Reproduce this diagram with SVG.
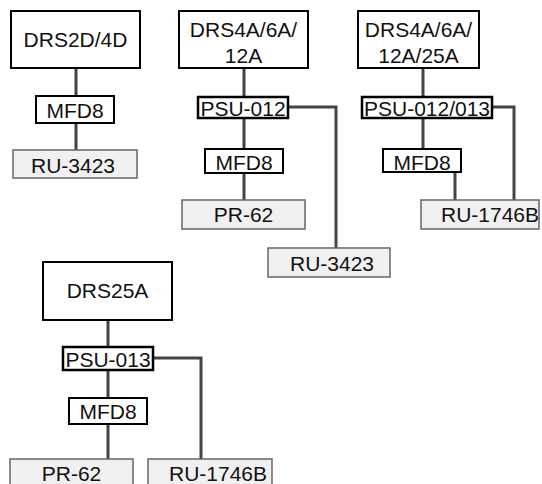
<svg xmlns="http://www.w3.org/2000/svg" width="542" height="484" viewBox="0 0 542 484">
<style>
.b{fill:#fff;stroke:#000;stroke-width:2}
.p{fill:#fff;stroke:#000;stroke-width:2.5}
.g{fill:#f0f0f0;stroke:#666;stroke-width:1.5}
.c{fill:none;stroke:#444;stroke-width:3}
text{font-family:"Liberation Sans",Arial,sans-serif;font-size:21px;fill:#111;text-anchor:middle}
</style>
<rect width="542" height="484" fill="#fff"/>
<g id="connectors">
<path class="c" d="M76 68V96M76 123V150"/>
<path class="c" d="M244 68V97M244 118V149M244 173V200M288 107H336V248"/>
<path class="c" d="M423 68V97M423 118V149M455 172V200M492 107H514V200"/>
<path class="c" d="M108 320V347M108 370V398M108 424V459M153 358H201V459"/>
</g>
<g id="drs2d4d"><rect class="b" x="11" y="11" width="129" height="57"/><text x="75.5" y="47">DRS2D/4D</text></g>
<g id="mfd8-a"><rect class="b" x="36" y="96" width="78" height="27"/><text x="75" y="118">MFD8</text></g>
<g id="ru3423-a"><rect class="g" x="13" y="150" width="124" height="28"/><text x="73" y="173">RU-3423</text></g>

<g id="drs4a12a"><rect class="b" x="179" y="11" width="129" height="57"/><text x="243.5" y="37">DRS4A/6A/</text><text x="243.5" y="63">12A</text></g>
<g id="psu012"><rect class="p" x="198" y="97" width="90" height="21"/><text x="243" y="116">PSU-012</text></g>
<g id="mfd8-b"><rect class="b" x="205" y="149" width="78" height="24"/><text x="244" y="170">MFD8</text></g>
<g id="pr62-a"><rect class="g" x="182" y="200" width="123" height="29"/><text x="243.5" y="222">PR-62</text></g>
<g id="ru3423-b"><rect class="g" x="268" y="248" width="122" height="29"/><text x="332" y="271">RU-3423</text></g>

<g id="drs4a25a"><rect class="b" x="358" y="11" width="121" height="57"/><text x="418.5" y="37">DRS4A/6A/</text><text x="418.5" y="63">12A/25A</text></g>
<g id="psu012013"><rect class="p" x="362" y="97" width="130" height="21"/><text x="427" y="116">PSU-012/013</text></g>
<g id="mfd8-c"><rect class="b" x="383" y="149" width="78" height="23"/><text x="422" y="170">MFD8</text></g>
<g id="ru1746b-a"><rect class="g" x="421" y="200" width="118" height="29"/><text x="490" y="222">RU-1746B</text></g>

<g id="drs25a"><rect class="b" x="43" y="262" width="129" height="58"/><text x="107.5" y="298">DRS25A</text></g>
<g id="psu013"><rect class="p" x="63" y="347" width="90" height="23"/><text x="108" y="367">PSU-013</text></g>
<g id="mfd8-d"><rect class="b" x="69" y="398" width="78" height="26"/><text x="108" y="419">MFD8</text></g>
<g id="pr62-b"><rect class="g" x="10" y="459" width="123" height="30"/><text x="71.5" y="481">PR-62</text></g>
<g id="ru1746b-b"><rect class="g" x="148" y="459" width="124" height="30"/><text x="218" y="481">RU-1746B</text></g>
</svg>
